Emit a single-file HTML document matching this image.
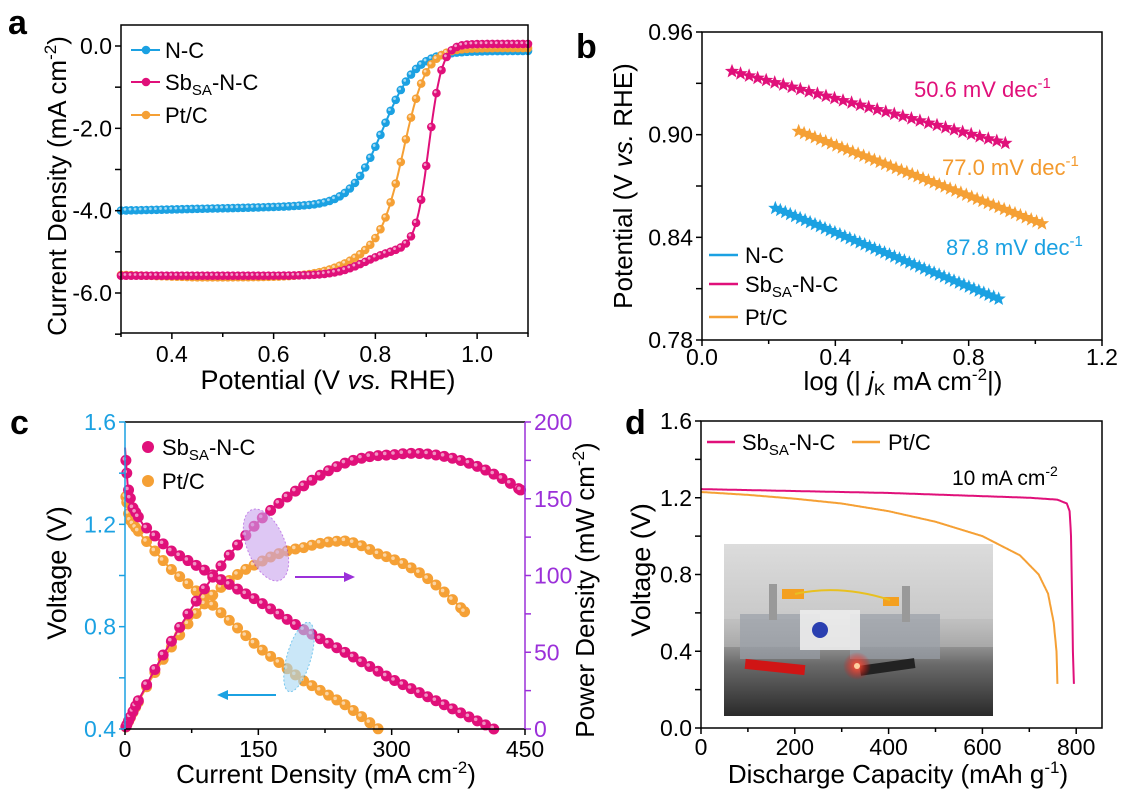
<!DOCTYPE html>
<html><head><meta charset="utf-8"><style>
html,body{margin:0;padding:0;background:#fff}
svg{display:block;font-family:"Liberation Sans",Arial,sans-serif}
</style></head><body>
<svg id="s" width="1127" height="806" viewBox="0 0 1127 806" xmlns="http://www.w3.org/2000/svg">
<defs>
<linearGradient id="ph" x1="0" y1="0" x2="0" y2="1">
<stop offset="0" stop-color="#dcdcdc"/><stop offset="0.45" stop-color="#c8c8c8"/><stop offset="0.7" stop-color="#6a6a6a"/><stop offset="1" stop-color="#2a2a2a"/></linearGradient>
<radialGradient id="led" cx="0.5" cy="0.5" r="0.5"><stop offset="0" stop-color="#ff6040"/><stop offset="1" stop-color="#ff0000" stop-opacity="0"/></radialGradient>
</defs>
<g id="g"></g>
<text x="8" y="34" font-size="34" font-weight="bold">a</text>
<text x="576" y="58" font-size="34" font-weight="bold">b</text>
<text x="10" y="434" font-size="34" font-weight="bold">c</text>
<text x="625" y="434" font-size="34" font-weight="bold">d</text>
<text transform="translate(66,186) rotate(-90)" text-anchor="middle" font-size="26">Current Density (mA cm<tspan dy="-10" font-size="17">-2</tspan><tspan dy="10">)</tspan></text>
<text x="328" y="389" text-anchor="middle" font-size="27">Potential (V <tspan font-style="italic">vs.</tspan> RHE)</text>
<text transform="translate(632,186) rotate(-90)" text-anchor="middle" font-size="26">Potential (V <tspan font-style="italic">vs.</tspan> RHE)</text>
<text x="903" y="390" text-anchor="middle" font-size="26">log (| <tspan font-style="italic">j</tspan><tspan font-size="17" dy="5">K</tspan><tspan dy="-5"> mA cm</tspan><tspan dy="-10" font-size="17">-2</tspan><tspan dy="10">|)</tspan></text>
<text x="914" y="97" font-size="22" fill="#e0107a">50.6 mV dec<tspan dy="-9" font-size="15">-1</tspan></text>
<text x="942" y="175" font-size="22" fill="#f39a2e">77.0 mV dec<tspan dy="-9" font-size="15">-1</tspan></text>
<text x="946" y="255" font-size="22" fill="#1ba1e2">87.8 mV dec<tspan dy="-9" font-size="15">-1</tspan></text>
<text transform="translate(66,573) rotate(-90)" text-anchor="middle" font-size="27">Voltage (V)</text>
<text x="326" y="783" text-anchor="middle" font-size="26">Current Density (mA cm<tspan dy="-10" font-size="17">-2</tspan><tspan dy="10">)</tspan></text>
<text transform="translate(594,590) rotate(-90)" text-anchor="middle" font-size="26">Power Density (mW cm<tspan dy="-10" font-size="17">-2</tspan><tspan dy="10">)</tspan></text>
<text transform="translate(650,570) rotate(-90)" text-anchor="middle" font-size="27">Voltage (V)</text>
<text x="898" y="783" text-anchor="middle" font-size="26">Discharge Capacity (mAh g<tspan dy="-10" font-size="17">-1</tspan><tspan dy="10">)</tspan></text>
<text x="952" y="485" font-size="21">10 mA cm<tspan dy="-9" font-size="14">-2</tspan></text>
</svg>
<script>
var NS="http://www.w3.org/2000/svg",G=document.getElementById('g');
function el(t,a,txt){var e=document.createElementNS(NS,t);for(var k in a)e.setAttribute(k,a[k]);if(txt!==undefined)e.textContent=txt;G.appendChild(e);return e;}
var BL="#1ba1e2",PK="#e0107a",OR="#f5a035",PU="#9b30d9";
var FS=23;
function sig(x){return 1/(1+Math.exp(x));}
function frame(L,T,R,B){el('rect',{x:L,y:T,width:R-L,height:B-T,fill:'none',stroke:'#000','stroke-width':1.5});}
function yt(x,y,lbl,col,side){col=col||'#000';var d=side==='r'?1:-1;
 el('line',{x1:x,y1:y,x2:x+d*6,y2:y,stroke:col,'stroke-width':1.5});
 if(lbl!==null)el('text',{x:x+d*9,y:y+8,'font-size':FS,'text-anchor':side==='r'?'start':'end',fill:col},lbl);}
function xt(x,y,lbl,len,by){el('line',{x1:x,y1:y,x2:x,y2:y+(len||6),stroke:'#000','stroke-width':1.5});
 if(lbl!==null)el('text',{x:x,y:by,'font-size':FS,'text-anchor':'middle'},lbl);}
function sbtxt(x,y,fs){var t=el('text',{x:x,y:y,'font-size':fs});t.innerHTML='Sb<tspan font-size="'+Math.round(fs*0.68)+'" dy="5">SA</tspan><tspan dy="-5">-N-C</tspan>';}
// ===== Panel a =====
(function(){var L=121,R=528,T=25,B=333;
function X(v){return L+(v-0.3)/0.8*(R-L);}function Y(v){return 46+(0-v)/6*(293-46);}
function nc(E){var Lp=-3.9-(E<0.65?0.28*(0.65-E):0);return -0.12+(Lp+0.12)*sig((E-0.815)/0.032);}
function sb(E){return 0.05+(-5.58-0.05)*(0.12*sig((E-0.78)/0.03)+0.88*sig((E-0.905)/0.013));}
function pt(E){var p=-5.62+(E<0.45?0.06*(0.45-E)/0.15:0);return -0.05+(p+0.05)*(0.15*sig((E-0.76)/0.04)+0.85*sig((E-0.856)/0.022));}
[[nc,BL],[pt,OR],[sb,PK]].forEach(function(s){var d='';for(var E=0.3;E<=1.1001;E+=0.0025)d+=(d?'L':'M')+X(E).toFixed(1)+','+Y(s[0](E)).toFixed(1);
 el('path',{d:d,fill:'none',stroke:s[1],'stroke-width':2});
 for(var E=0.3;E<=1.1001;E+=0.01){el('circle',{cx:X(E),cy:Y(s[0](E)),r:4.3,fill:s[1]});el('circle',{cx:X(E)-1.2,cy:Y(s[0](E))-1.2,r:1.4,fill:'#fff',opacity:0.6});}});
frame(L,T,R,B);
[0,-1,-2,-3,-4,-5,-6,-7].forEach(function(v){yt(L,Y(v),v%2===0?(v===0?'0.0':v.toFixed(1)):null);});
for(var i=3;i<=11;i++){var v=i/10;xt(X(v),B,(i%2===0)?v.toFixed(1):null,i%2===0?6:4,362);}
[[BL,50],[PK,82],[OR,115]].forEach(function(l){el('line',{x1:131,y1:l[1],x2:160,y2:l[1],stroke:l[0],'stroke-width':2});el('circle',{cx:146,cy:l[1],r:4.3,fill:l[0]});});
el('text',{x:165,y:58,'font-size':22},'N-C');
sbtxt(165,90,22);
el('text',{x:165,y:123,'font-size':22},'Pt/C');
})();
// ===== Panel b =====
function star(cx,cy,r,col){var p='';for(var i=0;i<10;i++){var a=-Math.PI/2+i*Math.PI/5,rr=i%2?r*0.42:r;p+=(i?'L':'M')+(cx+rr*Math.cos(a)).toFixed(1)+','+(cy+rr*Math.sin(a)).toFixed(1);}el('path',{d:p+'Z',fill:col});}
(function(){var L=702,R=1102,T=32,B=340;
function X(v){return L+v/1.2*(R-L);}function Y(v){return T+(0.96-v)/0.18*(B-T);}
[[0.09,0.937,0.91,0.895,PK,32],[0.29,0.902,1.02,0.848,OR,45],[0.22,0.857,0.89,0.804,BL,45]].forEach(function(s){
 el('line',{x1:X(s[0]),y1:Y(s[1]),x2:X(s[2]),y2:Y(s[3]),stroke:s[4],'stroke-width':2});
 for(var i=0;i<=s[5];i++){var f=i/s[5];star(X(s[0]+f*(s[2]-s[0])),Y(s[1]+f*(s[3]-s[1])),7.5,s[4]);}});
frame(L,T,R,B);
[0.78,0.81,0.84,0.87,0.90,0.93,0.96].forEach(function(v,i){yt(L,Y(v),i%2===0?v.toFixed(2):null);});
for(var i=0;i<=6;i++){var v=i*0.2;xt(X(v),B,i%2===0?v.toFixed(1):null,i%2===0?6:4,365);}
[[BL,255],[PK,284],[OR,317]].forEach(function(l){el('line',{x1:709,y1:l[1],x2:738,y2:l[1],stroke:l[0],'stroke-width':2.5});});
el('text',{x:745,y:263,'font-size':22},'N-C');
sbtxt(745,292,22);
el('text',{x:745,y:325,'font-size':22},'Pt/C');
})();
// ===== Panel c =====
(function(){var L=125,R=525,T=422,B=729;
function X(v){return L+v/450*(R-L);}function Y(v){return T+(1.6-v)/1.2*(B-T);}function YP(p){return T+(200-p)/200*(B-T);}
function interp(pts,x){for(var i=1;i<pts.length;i++)if(x<=pts[i][0]){var a=pts[i-1],b=pts[i];return a[1]+(b[1]-a[1])*(x-a[0])/(b[0]-a[0]);}return pts[pts.length-1][1];}
var sbV=[[0,1.5],[3,1.35],[8,1.27],[20,1.2],[50,1.1],[100,1.0],[150,0.9],[200,0.79],[250,0.695],[300,0.595],[350,0.51],[415,0.4],[445,0.35]];
var ptV=[[0,1.33],[5,1.22],[20,1.15],[50,1.03],[100,0.88],[150,0.72],[200,0.59],[250,0.49],[285,0.4],[330,0.31],[382,0.2]];
function dots(pts,maxI,col){var xs=[1,2,4,6,9,12];for(var i=15;i<=maxI;i+=9.3)xs.push(i);xs.push(maxI);
 var d='';for(var x=0;x<=maxI;x+=1){var v=interp(pts,x);if(v<0.4)break;d+=(d?'L':'M')+X(x).toFixed(1)+','+Y(v).toFixed(1);}
 el('path',{d:d,fill:'none',stroke:col,'stroke-width':2});
 var d2='';for(var x=0;x<=maxI;x+=1){d2+=(d2?'L':'M')+X(x).toFixed(1)+','+YP(x*interp(pts,x)).toFixed(1);}
 el('path',{d:d2,fill:'none',stroke:col,'stroke-width':2});
 xs.forEach(function(x){var v=interp(pts,x);if(v>=0.4){el('circle',{cx:X(x),cy:Y(v),r:5.5,fill:col});el('circle',{cx:X(x)-1.6,cy:Y(v)-1.6,r:1.8,fill:'#fff',opacity:0.55});}
  var p=x*v;el('circle',{cx:X(x),cy:YP(p),r:5.5,fill:col});el('circle',{cx:X(x)-1.6,cy:YP(p)-1.6,r:1.8,fill:'#fff',opacity:0.55});});}
dots(ptV,382,OR);dots(sbV,445,PK);
el('ellipse',{cx:266,cy:545,rx:19,ry:38,transform:'rotate(-22 266 545)',fill:'#c9a3ee',opacity:0.6,stroke:PU,'stroke-width':1,'stroke-dasharray':'2,2'});
el('ellipse',{cx:299,cy:657,rx:12,ry:36,transform:'rotate(16 299 657)',fill:'#a8d8f5',opacity:0.6,stroke:BL,'stroke-width':1,'stroke-dasharray':'2,2'});
el('line',{x1:295,y1:577,x2:347,y2:577,stroke:PU,'stroke-width':2});el('path',{d:'M355,577 L344,572 L344,582Z',fill:PU});
el('line',{x1:276,y1:695,x2:225,y2:695,stroke:BL,'stroke-width':2});el('path',{d:'M217,695 L228,690 L228,700Z',fill:BL});
el('line',{x1:L,y1:T,x2:R,y2:T,stroke:'#000','stroke-width':1.5});el('line',{x1:L,y1:B,x2:R,y2:B,stroke:'#000','stroke-width':1.5});
el('line',{x1:L,y1:T,x2:L,y2:B,stroke:BL,'stroke-width':1.5});el('line',{x1:R,y1:T,x2:R,y2:B,stroke:PU,'stroke-width':1.5});
for(var i=0;i<=6;i++){var v=0.4+i*0.2;yt(L,Y(v),i%2===0?v.toFixed(1):null,BL);}
for(var i=0;i<=8;i++){var p=i*25;yt(R,YP(p),i%2===0?String(p):null,PU,'r');}
for(var i=0;i<=6;i++){var v=i*75;xt(X(v),B,i%2===0?String(v):null,i%2===0?6:4,757);}
el('circle',{cx:148,cy:447,r:6,fill:PK});el('circle',{cx:148,cy:481,r:6,fill:OR});
sbtxt(162,455,22);
el('text',{x:162,y:489,'font-size':22},'Pt/C');
})();
// ===== Panel d =====
(function(){var L=701,R=1102,T=421,B=728;
function X(v){return L+v/855*(R-L);}function Y(v){return T+(1.6-v)/1.6*(B-T);}
function interp(pts,x){for(var i=1;i<pts.length;i++)if(x<=pts[i][0]){var a=pts[i-1],b=pts[i];return a[1]+(b[1]-a[1])*(x-a[0])/(b[0]-a[0]);}return pts[pts.length-1][1];}
var px=724,py=544,pw=269,ph=172;
el('rect',{x:px,y:py,width:pw,height:ph,fill:'url(#ph)'});
el('rect',{x:px,y:py+75,width:pw,height:28,fill:'#b9b9b9',opacity:0.6});
el('rect',{x:740,y:py+70,width:80,height:45,fill:'#9aa0a8',opacity:0.7});
el('rect',{x:850,y:py+70,width:90,height:45,fill:'#9aa0a8',opacity:0.7});
el('rect',{x:800,y:py+66,width:60,height:40,fill:'#ececec',opacity:0.9});
el('circle',{cx:820,cy:py+86,r:8,fill:'#2a3fb0'});
el('rect',{x:745,y:py+118,width:60,height:10,fill:'#d01515',transform:'rotate(6 775 '+(py+123)+')'});
el('rect',{x:860,y:py+118,width:55,height:10,fill:'#222',transform:'rotate(-8 887 '+(py+123)+')'});
el('circle',{cx:857,cy:py+122,r:14,fill:'url(#led)'});el('circle',{cx:857,cy:py+122,r:3,fill:'#ffd0a0'});
el('rect',{x:782,y:py+45,width:22,height:10,fill:'#f4a020'});el('rect',{x:883,y:py+53,width:16,height:9,fill:'#f4a020'});
el('path',{d:'M795,'+(py+50)+' Q840,'+(py+40)+' 890,'+(py+56),stroke:'#e8c020','stroke-width':2,fill:'none'});
el('rect',{x:769,y:py+40,width:8,height:36,fill:'#999'});el('rect',{x:902,y:py+42,width:8,height:36,fill:'#999'});
var sb=[[0,1.245],[100,1.24],[400,1.225],[700,1.2],[760,1.19],[780,1.17],[786,1.13],[789,1.0],[791,0.7],[793,0.4],[795,0.23]];
var pt=[[0,1.23],[100,1.215],[200,1.195],[300,1.17],[400,1.13],[500,1.075],[600,1.0],[680,0.9],[720,0.8],[740,0.7],[752,0.55],[758,0.4],[760,0.23]];
[[pt,OR],[sb,PK]].forEach(function(s){var d='';
 for(var x=0;x<=s[0][s[0].length-1][0];x+=1){d+=(d?'L':'M')+X(x).toFixed(1)+','+Y(interp(s[0],x)).toFixed(1);}
 var last=s[0][s[0].length-1];d+='L'+X(last[0]).toFixed(1)+','+Y(last[1]).toFixed(1);
 el('path',{d:d,fill:'none',stroke:s[1],'stroke-width':2});});
frame(L,T,R,B);
for(var i=0;i<=8;i++){var v=i*0.2;yt(L,Y(v),i%2===0?v.toFixed(1):null);}
for(var i=0;i<=8;i++){var v=i*100;xt(X(v),B,i%2===0?String(v):null,i%2===0?6:4,755);}
el('line',{x1:707,y1:442,x2:735,y2:442,stroke:PK,'stroke-width':2.5});
sbtxt(742,450,22);
el('line',{x1:852,y1:442,x2:880,y2:442,stroke:OR,'stroke-width':2.5});
el('text',{x:888,y:450,'font-size':22},'Pt/C');
})();
</script>
</body></html>
